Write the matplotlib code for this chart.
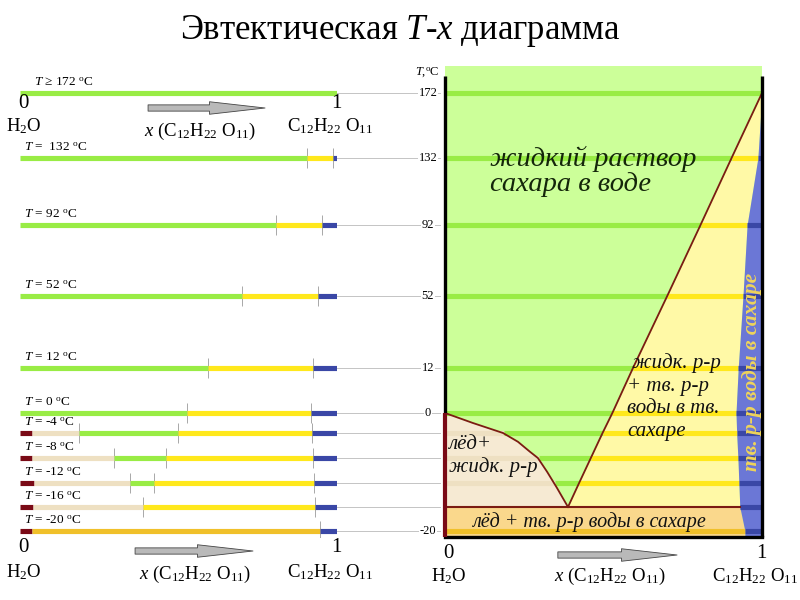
"""
Eutectic T-x diagram (water - sucrose), schematic.
Left: composition strips at fixed temperatures. Right: phase diagram.
Output: out.png
"""
import numpy as np
import matplotlib
matplotlib.use('Agg')
import matplotlib.pyplot as plt
from matplotlib.transforms import blended_transform_factory

plt.rcParams.update({
    'font.family':      ['Liberation Serif', 'DejaVu Serif'],
    'mathtext.fontset': 'custom',
    'mathtext.rm':      'Liberation Serif',
    'mathtext.it':      'Liberation Serif:italic',
    'mathtext.bf':      'Liberation Serif:bold',
})

nan = np.nan

# ── data ─────────────────────────────────────────────────────────────────────
ROW_T   = [172, 132, 92, 52, 12, 0, -4, -8, -12, -16, -20]
ROW_LBL = ['$T$ ≥ 172', '$T$ =  132', '$T$ = 92', '$T$ = 52', '$T$ = 12',
           '$T$ = 0', '$T$ = -4', '$T$ = -8', '$T$ = -12', '$T$ = -16',
           '$T$ = -20']
ICE_END = [nan, nan, nan, nan, nan, nan, 0.037, 0.037, 0.045, 0.040, 0.037]
TAN_END = [nan, nan, nan, nan, nan, nan, 0.187, 0.295, 0.347, 0.388, nan]
LIQ_END = [1.0, 0.904, 0.806, 0.701, 0.593, 0.528, 0.497, 0.460, 0.423, nan, nan]
SOL_END = [1.0, 0.987, 0.953, 0.940, 0.925, 0.918, 0.920, 0.924, 0.927, 0.930, 0.946]

EUT_T, EUT_X = -16, 0.388
ICE_CURVE_X = [0.0, 0.088, 0.183, 0.230, 0.268, 0.293, 0.322, 0.353, 0.388]
ICE_CURVE_T = [0, -2, -4, -5.4, -7.0, -8, -10.2, -12.8, -16]

TICK_T = [172, 132, 92, 52, 12, 0, -20]

# ── schematic (non-linear) temperature axis: T -> vertical pixel ─────────────
T_KNOTS  = [-21, -20, -16, -12, -8, -4, 0, 12, 52, 92, 132, 172, 189]
PX_KNOTS = [537, 531, 507, 483, 458, 433, 413, 368, 296, 225, 158, 93, 66]
_pos = 600.0 - np.array(PX_KNOTS, dtype=float)


def t_fwd(t):
    return np.interp(t, T_KNOTS, _pos)


def t_inv(p):
    return np.interp(p, _pos, T_KNOTS)


T_LO, T_HI = T_KNOTS[0], T_KNOTS[-1]
FRAME_TOP_T = 183

# ── colours ──────────────────────────────────────────────────────────────────
GREEN_BG  = '#ccff99'
GREEN     = '#99ec45'
YELLOW_BG = '#fff9a6'
YELLOW    = '#ffe81c'
BLUE_BG   = '#6b77d6'
BLUE      = '#3a47a6'
TAN_BG    = '#f6ead3'
TAN       = '#eee0c2'
ICE       = '#7a0a16'
ORANGE_BG = '#fad88c'
ORANGE    = '#f0c02a'
CURVE     = '#7b1c12'
GRAY      = '#c4c4c4'

SEG_COL = {'ice': ICE, 'tan': TAN, 'liq': GREEN, 'two': YELLOW,
           'eut': ORANGE, 'sol': BLUE}


def segments(i):
    segs, x = [], 0.0
    if not np.isnan(ICE_END[i]):
        segs.append((x, ICE_END[i], 'ice')); x = ICE_END[i]
    if not np.isnan(TAN_END[i]):
        segs.append((x, TAN_END[i], 'tan')); x = TAN_END[i]
    if not np.isnan(LIQ_END[i]):
        segs.append((x, LIQ_END[i], 'liq')); x = LIQ_END[i]
    if SOL_END[i] > x:
        key = 'eut' if ROW_T[i] < EUT_T else 'two'
        segs.append((x, SOL_END[i], key)); x = SOL_END[i]
    if x < 1.0:
        segs.append((x, 1.0, 'sol'))
    return segs


fig = plt.figure(figsize=(8, 6), dpi=100)
fig.patch.set_facecolor('white')


def px_box(x0, x1, ytop, ybot):
    return [x0 / 800, 1 - ybot / 600, (x1 - x0) / 800, (ybot - ytop) / 600]


ax_l = fig.add_axes(px_box(20, 337, 66, 537))
ax_r = fig.add_axes(px_box(445, 762, 66, 537))
for ax in (ax_l, ax_r):
    ax.set_yscale('function', functions=(t_fwd, t_inv))
    ax.set_ylim(T_LO, T_HI)
    ax.set_xlim(0, 1)

# ═════════════════════════ LEFT: composition strips ═════════════════════════
ax_l.axis('off')
for i, t in enumerate(ROW_T):
    # connector to the diagram
    ax_l.plot([1, 1.325], [t, t], color=GRAY, lw=0.7, clip_on=False, zorder=0)
    segs = segments(i)
    for x0, x1, key in segs:
        ax_l.hlines(t, x0, x1, colors=SEG_COL[key], lw=3.7, capstyle='butt',
                    zorder=2)
    bounds = [x1 for x0, x1, key in segs if key in ('tan', 'liq', 'two', 'eut')
              and x1 < 1.0]
    ax_l.plot(bounds, [t] * len(bounds), ls='none', marker='|', ms=15,
              mew=0.7, color='#a8a8a8', zorder=1)
    ax_l.annotate(ROW_LBL[i] + ' $^{\\rm o}$C', (0, t),
                  xytext=(10 if i == 0 else 3, 3.2),
                  textcoords='offset points', fontsize=9.5, ha='left',
                  va='bottom', annotation_clip=False)

# ═════════════════════════ RIGHT: phase diagram ═════════════════════════════
ax_r.set_facecolor(GREEN_BG)
for s in ('top', 'left', 'right'):
    ax_r.spines[s].set_visible(False)
ax_r.spines['bottom'].set_linewidth(2.4)
ax_r.set_xticks([])
ax_r.set_yticks([])
ax_r.minorticks_off()

liq_T = [t for t, v in zip(ROW_T, LIQ_END) if not np.isnan(v)] + [EUT_T]
liq_X = [v for v in LIQ_END if not np.isnan(v)] + [EUT_X]
sol_at_liq = [SOL_END[ROW_T.index(t)] for t in liq_T]
sol_eut = SOL_END[ROW_T.index(EUT_T)]

ax_r.fill_betweenx(ICE_CURVE_T, 0, ICE_CURVE_X, color=TAN_BG, lw=0, zorder=1)
ax_r.fill_betweenx(liq_T, liq_X, sol_at_liq, color=YELLOW_BG, lw=0, zorder=1)
ax_r.fill_betweenx([EUT_T, -20, T_LO], 0, [sol_eut, SOL_END[-1], SOL_END[-1]],
                   color=ORANGE_BG, lw=0, zorder=1)
ax_r.fill_betweenx(ROW_T + [T_LO], SOL_END + [SOL_END[-1]], 1,
                   color=BLUE_BG, lw=0, zorder=1)

for i, t in enumerate(ROW_T):
    for x0, x1, key in segments(i):
        if key == 'ice':
            continue
        if t == EUT_T and key != 'sol':
            continue
        if key in ('eut', 'tan'):
            x0 = 0.0
        ax_r.hlines(t, x0, x1, colors=SEG_COL[key], lw=3.7, capstyle='butt',
                    zorder=2)

# phase boundaries
ax_r.plot(liq_X, liq_T, color=CURVE, lw=1.3, zorder=4)
ax_r.plot(ICE_CURVE_X, ICE_CURVE_T, color=CURVE, lw=1.3, zorder=4)
ax_r.plot([0, sol_eut], [EUT_T, EUT_T], color=CURVE, lw=1.5, zorder=4)

# frame
ax_r.plot([0, 0], [0, FRAME_TOP_T], color='black', lw=2.4, clip_on=False,
          zorder=5, solid_capstyle='butt')
ax_r.plot([0, 0], [T_LO, 0], color=ICE, lw=3.0, clip_on=False, zorder=5,
          solid_capstyle='butt')
ax_r.plot([1, 1], [T_LO, FRAME_TOP_T], color='black', lw=2.4, clip_on=False,
          zorder=5, solid_capstyle='butt')

# temperature labels
ytr = ax_r.get_yaxis_transform()
for t in TICK_T:
    ax_r.text(-0.054, t, str(t), transform=ytr, ha='center', va='center',
              fontsize=9, zorder=6,
              bbox=dict(facecolor='white', edgecolor='none', pad=0.6))
fig.text(427 / 800, 1 - 72 / 600, '$T$,$^{\\rm o}$C', ha='center',
         va='center', fontsize=9)

# region labels
ax_r.text(0.142, 124, 'жидкий раствор\nсахара в воде', style='italic',
          fontsize=20.5, color='#14260a', ha='left', va='center',
          linespacing=1.05, zorder=6)
ax_r.text(0.575, 4.3, ' жидк. р-р\n+ тв. р-р\nводы в тв.\nсахаре',
          style='italic', fontsize=15, color='#111111', ha='left',
          va='center', linespacing=1.25, zorder=6)
ax_r.text(0.012, -7.7, 'лёд+\nжидк. р-р', style='italic', fontsize=15,
          color='#111111', ha='left', va='center', linespacing=1.25, zorder=6)
ax_r.text(0.457, -18.5, 'лёд + тв. р-р воды в сахаре', style='italic',
          fontsize=14.5, color='#111111', ha='center', va='center', zorder=6)
ax_r.text(0.968, 11, 'тв. р-р воды в сахаре', style='italic',
          fontweight='bold', fontsize=15.5, color='#efd45a', rotation=90,
          ha='center', va='center', zorder=6)


# ── composition captions ─────────────────────────────────────────────────────
def comp_caption(ax, py_num, py_sub, py_arrow, py_cap, arr, cap_x, fs=13.5):
    tr = blended_transform_factory(ax.transData, fig.transFigure)
    fy = lambda p: 1 - p / 600
    ax.text(0.01, fy(py_num), '0', transform=tr, ha='center', va='center',
            fontsize=fs + 1.5)
    ax.text(0.012, fy(py_sub), 'H$_2$O', transform=tr, ha='center',
            va='center', fontsize=fs)
    ax.text(0.997, fy(py_num), '1', transform=tr, ha='center', va='center',
            fontsize=fs + 1.5)
    ax.text(0.978, fy(py_sub), 'C$_{12}$H$_{22}$ O$_{11}$', transform=tr,
            ha='center', va='center', fontsize=fs)
    ax.text(cap_x, fy(py_cap), '$x$ (C$_{12}$H$_{22}$ O$_{11}$)',
            transform=tr, ha='center', va='center', fontsize=fs)
    ax.annotate('', xy=(arr[1], fy(py_arrow)), xytext=(arr[0], fy(py_arrow)),
                xycoords=tr, textcoords=tr, annotation_clip=False,
                arrowprops=dict(arrowstyle='simple,head_length=4,'
                                'head_width=0.9,tail_width=0.45',
                                fc='#b9b9b9', ec='#444444', lw=0.6,
                                shrinkA=0, shrinkB=0))


comp_caption(ax_l, 103, 126, 108, 131, (0.404, 0.773), 0.568)
comp_caption(ax_l, 548, 572, 551, 574, (0.363, 0.735), 0.552)
comp_caption(ax_r, 553, 576, 555, 576, (0.356, 0.732), 0.520)

fig.text(0.5, 1 - 31 / 600, 'Эвтектическая $T$-$x$ диаграмма', ha='center',
         va='center', fontsize=25)

fig.savefig('out.png', dpi=100, facecolor='white')
